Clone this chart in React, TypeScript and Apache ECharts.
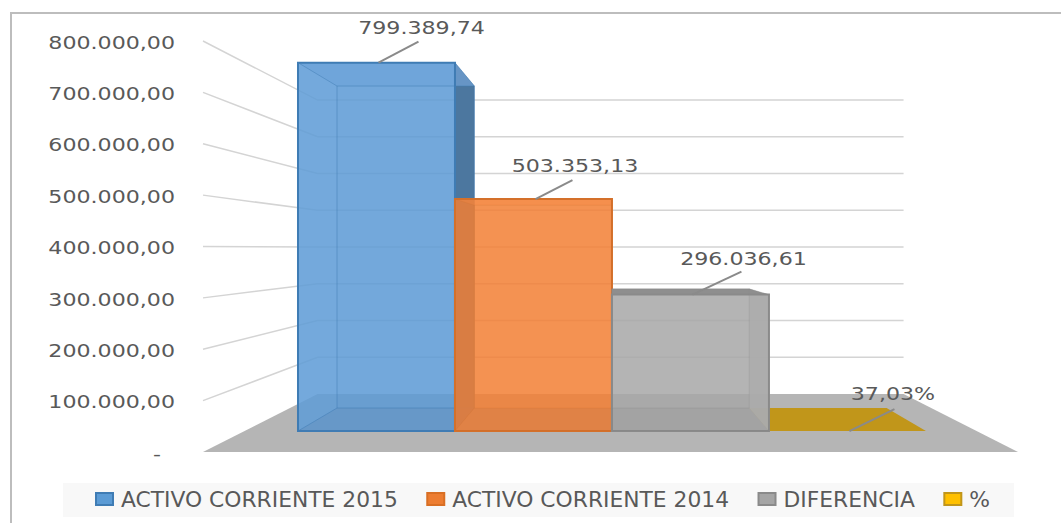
import React, { useEffect, useRef } from "react";
import * as echarts from "echarts";

const categories = ["Activo corriente"];
const seriesNames = ["ACTIVO CORRIENTE 2015", "ACTIVO CORRIENTE 2014", "DIFERENCIA", "%"];
const values2015 = [799389.74];
const values2014 = [503353.13];
const valuesDiff = [296036.61];
const valuesPct = [0.3703];
const dataLabels = ["799.389,74", "503.353,13", "296.036,61", "37,03%"];
const yTicks = [0, 100000, 200000, 300000, 400000, 500000, 600000, 700000, 800000];
const yTickLabels = ["-", "100.000,00", "200.000,00", "300.000,00", "400.000,00", "500.000,00", "600.000,00", "700.000,00", "800.000,00"];

const FONT = "'DejaVu Sans'";
const TEXT = "#595959";
const VP = { x: 610.8, y: 248.4 };
const S_BACK_WALL = [0.719, 0.7153];
const S_BAR_FRONT = [0.898, 0.897];
const S_BAR_BACK = [0.786, 0.784];
const CLUSTER = 0.858;
const CLUSTER_SHIFT = 1.6;
const TEXT_STRETCH = 1.23;

const project = (p: number[], s: number[]) => [VP.x + (p[0] - VP.x) * s[0], VP.y + (p[1] - VP.y) * s[1]];

const faces = [
  { front: "rgba(92,154,212,0.8)", left: "rgba(130,185,235,0.35)", right: "", sideSolid: "#4c779f", top: "rgba(125,175,228,0.55)", bottom: "rgba(70,120,175,0.18)", back: "rgba(92,154,212,0.3)", edge: "#3f7cb4", inner: 0.5 },
  { front: "rgba(243,128,54,0.8)", left: "rgba(205,105,40,0.3)", right: "rgba(205,105,40,0.3)", sideSolid: "", top: "rgba(250,156,88,0.5)", bottom: "rgba(205,105,40,0.22)", back: "rgba(243,128,54,0.3)", edge: "#d4702a", inner: 0.2 },
  { front: "rgba(167,167,167,0.8)", left: "rgba(150,150,150,0.3)", right: "rgba(186,186,186,0.85)", sideSolid: "", top: "#8e8e8e", bottom: "rgba(130,130,130,0.15)", back: "rgba(167,167,167,0.3)", edge: "#8a8a8a", inner: 0.3 },
  { front: "", left: "", right: "", sideSolid: "", top: "", bottom: "#c1961a", back: "", edge: "#c1961a", inner: 0 },
];

const labelOffsets = [
  [45, -34.5],
  [41.5, -33],
  [53, -36],
  [45.5, -37],
];
const leaderEnds = [
  [42, -21],
  [39, -19],
  [51, -23],
  [47, -22],
];

const poly = (points: number[][], fill: string, stroke?: string, width = 0) => ({
  type: "polygon",
  shape: { points },
  style: { fill, stroke: stroke ?? "none", lineWidth: width },
});

function renderBar(seriesIdx: number) {
  return (_params: any, api: any) => {
    const v = api.value(1);
    const c = api.coord([0, 0]);
    const t = api.coord([0, v]);
    const band = api.size([1, 0])[0];
    const w = (band * CLUSTER) / 4;
    const x0 = c[0] + CLUSTER_SHIFT - (band * CLUSTER) / 2 + seriesIdx * w;
    const x1 = x0 + w;
    const fb = project([x0, c[1]], S_BAR_FRONT);
    const fb2 = project([x1, c[1]], S_BAR_FRONT);
    const ft = project([x0, t[1]], S_BAR_FRONT);
    const ft2 = project([x1, t[1]], S_BAR_FRONT);
    const bb = project([x0, c[1]], S_BAR_BACK);
    const bb2 = project([x1, c[1]], S_BAR_BACK);
    const bt = project([x0, t[1]], S_BAR_BACK);
    const bt2 = project([x1, t[1]], S_BAR_BACK);
    const f = faces[seriesIdx];
    const e = f.edge;
    const kids: any[] = [];
    if (seriesIdx === 3) {
      kids.push(poly([fb, fb2, bb2, bb], f.bottom));
    } else {
      kids.push(poly([bt, bt2, bb2, bb], f.back));
      if (seriesIdx === 0) kids.push(poly([ft2, bt2, bb2, fb2], f.sideSolid));
      else kids.push(poly([ft2, bt2, bb2, fb2], f.right));
      kids.push(poly([ft, bt, bb, fb], f.left));
      kids.push(poly([ft, ft2, bt2, bt], f.top));
      kids.push(poly([ft, ft2, fb2, fb], f.front, e, 2));
      kids.push(poly([fb, fb2, bb2, bb], f.bottom));
      kids.push({ type: "polyline", shape: { points: [bt, bt2, bb2, bb, bt] }, style: { fill: "none", stroke: e, lineWidth: 1, opacity: f.inner } });
      kids.push({ type: "polyline", shape: { points: [ft, bt] }, style: { fill: "none", stroke: e, lineWidth: 1, opacity: f.inner } });
      kids.push({ type: "polyline", shape: { points: [fb, bb] }, style: { fill: "none", stroke: e, lineWidth: 1, opacity: f.inner } });
      kids.push({ type: "polyline", shape: { points: [ft2, bt2] }, style: { fill: "none", stroke: e, lineWidth: 1, opacity: f.inner } });
    }
    const mid = (ft[0] + ft2[0]) / 2;
    const top = ft[1];
    const [lx, ly] = labelOffsets[seriesIdx];
    const [ex, ey] = leaderEnds[seriesIdx];
    kids.push({
      type: "line",
      shape: { x1: mid + 2, y1: top, x2: mid + ex, y2: top + ey },
      style: { stroke: "#8a8a8a", lineWidth: 2 },
    });
    kids.push({
      type: "text",
      x: mid + lx,
      y: top + ly,
      scaleX: TEXT_STRETCH,
      style: {
        text: dataLabels[seriesIdx],
        fill: TEXT,
        font: `18px ${FONT}`,
        textAlign: "center",
        textVerticalAlign: "middle",
      },
    });
    return { type: "group", children: kids };
  };
}

function renderWalls(params: any, api: any) {
  const v = api.value(0);
  const c = api.coord([0, v]);
  const band = api.size([1, 0])[0];
  const xl = c[0] - band / 2;
  const xr = c[0] + band / 2;
  const front = [xl, c[1]];
  const backL = project([xl, c[1]], S_BACK_WALL);
  const backR = project([xr, c[1]], S_BACK_WALL);
  const kids: any[] = [];
  if (v === 0) {
    kids.push(poly([[xl, c[1]], [xr, c[1]], backR, backL], "#b5b5b5"));
  } else {
    kids.push({
      type: "polyline",
      shape: { points: [front, backL, backR] },
      style: { fill: "none", stroke: "#d4d4d4", lineWidth: 1.5 },
    });
  }
  kids.push({
    type: "text",
    x: xl - 28 - (v === 0 ? 14 : 0),
    y: c[1] + 1.5,
    scaleX: TEXT_STRETCH,
    style: {
      text: yTickLabels[params.dataIndex],
      fill: TEXT,
      font: `18px ${FONT}`,
      textAlign: "right",
      textVerticalAlign: "middle",
    },
  });
  return { type: "group", children: kids };
}

export default function App() {
  const ref = useRef<HTMLDivElement>(null);
  useEffect(() => {
    const chart = echarts.init(ref.current!, undefined, { renderer: "svg" });
    const barData = [values2015, values2014, valuesDiff, valuesPct];
    const zOrder = [3, 4, 5, 2];
    chart.setOption({
      animation: false,
      backgroundColor: "#ffffff",
      textStyle: { fontFamily: FONT },
      grid: { left: 203, top: 41, width: 815, height: 411, containLabel: false },
      xAxis: {
        type: "category",
        data: categories,
        axisLine: { show: false },
        axisTick: { show: false },
        axisLabel: { show: false },
        splitLine: { show: false },
      },
      yAxis: {
        type: "value",
        min: 0,
        max: 800000,
        interval: 100000,
        axisLine: { show: false },
        axisTick: { show: false },
        splitLine: { show: false },
        axisLabel: { show: false },
      },
      legend: {
        left: 95,
        top: 488,
        itemWidth: 17,
        itemHeight: 12,
        itemGap: 28.5,
        padding: 0,
        icon: "rect",
        textStyle: { color: TEXT, fontFamily: FONT, fontSize: 21.8, padding: [0, 0, 0, 3] },
        data: seriesNames,
      },
      graphic: [
        { type: "line", z: -10, shape: { x1: 10, y1: 13, x2: 1061, y2: 13 }, style: { stroke: "#bdbdbd", lineWidth: 2 } },
        { type: "line", z: -10, shape: { x1: 11, y1: 12, x2: 11, y2: 523 }, style: { stroke: "#bdbdbd", lineWidth: 2 } },
        { type: "rect", z: -9, shape: { x: 63, y: 483, width: 951, height: 34 }, style: { fill: "#f8f8f8" } },
      ],
      series: [
        {
          type: "custom",
          name: "walls",
          renderItem: renderWalls,
          encode: { y: 0 },
          data: yTicks.map((t) => [t]),
          silent: true,
          z: 1,
        },
        ...seriesNames.map((name, i) => ({
          type: "custom",
          name,
          renderItem: renderBar(i),
          encode: { x: 0, y: 1 },
          data: barData[i].map((v, k) => [k, v]),
          itemStyle: {
            color: ["#5b9bd5", "#ed7d31", "#a5a5a5", "#ffc000"][i],
            borderColor: ["#3f7cb4", "#d96f24", "#8a8a8a", "#c1961a"][i],
            borderWidth: 2,
          },
          z: zOrder[i],
        })),
      ],
    });
    return () => chart.dispose();
  }, []);
  return <div ref={ref} style={{ position: "absolute", left: 0, top: 0, width: 1061, height: 523 }} />;
}
